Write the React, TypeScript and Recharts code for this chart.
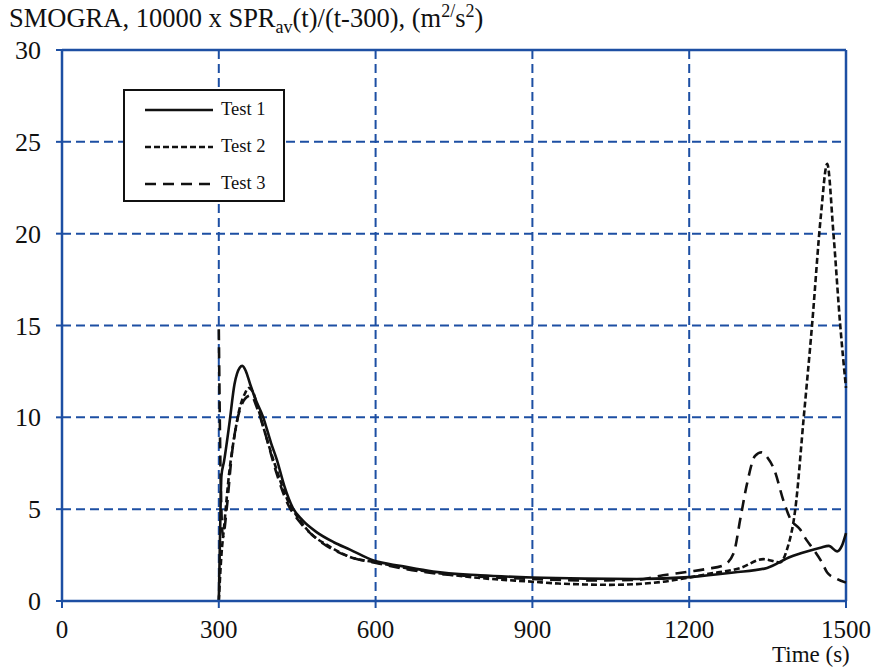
import React from "react";
import {
  CartesianGrid,
  Legend,
  Line,
  LineChart,
  ReferenceLine,
  XAxis,
  YAxis,
} from "recharts";

// values
const timeTicks = [0, 300, 600, 900, 1200, 1500];
const valueTicks = [0, 5, 10, 15, 20, 25, 30];

const test1Time = [300, 302, 305, 310, 320, 330, 340, 345, 352, 360, 370, 385, 400, 411, 425, 442, 460, 487, 520, 551, 596, 650, 710, 800, 900, 1000, 1100, 1200, 1285, 1349, 1393, 1425, 1451, 1467, 1483, 1492, 1500];
const test1Value = [0, 3, 6.8, 7.6, 9.6, 11.8, 12.7, 12.8, 12.5, 11.8, 11, 10, 8.6, 7.7, 6.3, 5.05, 4.4, 3.75, 3.2, 2.8, 2.2, 1.9, 1.6, 1.4, 1.28, 1.22, 1.2, 1.3, 1.55, 1.8, 2.4, 2.7, 2.9, 3.0, 2.7, 3.0, 3.7];

const test2Time = [300, 305, 310, 320, 330, 340, 350, 357, 365, 375, 390, 410, 430, 455, 475, 510, 551, 600, 700, 800, 900, 950, 1000, 1050, 1100, 1150, 1200, 1234, 1298, 1342, 1374, 1387, 1403, 1419, 1435, 1452, 1464, 1476, 1489, 1500];
const test2Value = [0, 2.5, 4, 7, 9, 10.5, 11.3, 11.6, 11.4, 10.5, 9, 7.2, 5.6, 4.4, 3.7, 3.0, 2.4, 2.1, 1.6, 1.25, 1.05, 0.95, 0.9, 0.88, 0.92, 1.05, 1.28, 1.46, 1.8, 2.28, 2.1, 2.8, 5, 9.95, 15, 21, 23.8, 20, 15, 11.6];

const test3Time = [300, 304, 308, 315, 325, 335, 350, 362, 372, 390, 410, 430, 455, 487, 551, 596, 700, 800, 900, 1000, 1100, 1150, 1200, 1234, 1266, 1285, 1298, 1310, 1326, 1339, 1350, 1362, 1381, 1393, 1412, 1425, 1438, 1454, 1464, 1483, 1500];
const test3Value = [14.8, 6, 3.5, 5, 8, 9.8, 11, 11.2, 10.6, 9, 7, 5.4, 4.3, 3.4, 2.4, 2.1, 1.55, 1.32, 1.2, 1.12, 1.15, 1.4, 1.6, 1.75, 1.95, 2.6, 4.5, 6.3, 7.9, 8.1, 7.8, 7.2, 5.4, 4.5, 3.9, 3.3, 2.8, 2.1, 1.55, 1.2, 1.0];

const seriesNames = ["Test 1", "Test 2", "Test 3"];

const toRows = (ts: number[], vs: number[]) => ts.map((t, i) => ({ t, v: vs[i] }));

const BLUE = "#1d4fa3";
const dashes: Record<string, string | undefined> = {
  "Test 1": undefined,
  "Test 2": "6 3",
  "Test 3": "11 7",
};
const FONT = "'Liberation Serif', 'Times New Roman', serif";

const XTick = ({ x, y, payload }: any) => (
  <text x={x} y={y} dy="0.78em" textAnchor="middle" fontSize={25} fontFamily={FONT} fill="#111">
    {payload.value}
  </text>
);

const YTick = ({ x, y, payload }: any) => (
  <text x={x} y={y} dy="0.35em" textAnchor="end" fontSize={26} fontFamily={FONT} fill="#111">
    {payload.value}
  </text>
);

const LegendBox = ({ payload }: any) => (
  <div
    style={{
      width: 162,
      height: 113,
      border: "2px solid #111",
      background: "#fff",
      boxSizing: "border-box",
      fontFamily: FONT,
      fontSize: 18.5,
      color: "#111",
    }}
  >
    {(payload || []).map((entry: any) => (
      <div key={entry.value} style={{ display: "flex", alignItems: "center", height: 37 }}>
        <svg width={88} height={10} style={{ marginLeft: 20 }}>
          <line x1={0} y1={5} x2={68} y2={5} stroke="#111" strokeWidth={2.5} strokeDasharray={dashes[entry.value]} />
        </svg>
        <span style={{ marginLeft: -12 }}>{entry.value}</span>
      </div>
    ))}
  </div>
);

export default function App() {
  const rows = [toRows(test1Time, test1Value), toRows(test2Time, test2Value), toRows(test3Time, test3Value)];

  return (
    <div style={{ position: "fixed", left: 0, top: 0, width: 877, height: 667, background: "#fff" }}>
      <div
        style={{
          position: "absolute",
          left: 9,
          top: 1,
          fontFamily: FONT,
          fontSize: 26.5,
          color: "#111",
          whiteSpace: "nowrap",
          zIndex: 2,
        }}
      >
        SMOGRA, 10000 x SPR<sub style={{ fontSize: 18 }}>av</sub>(t)/(t-300), (m<sup style={{ fontSize: 18 }}>2/</sup>s
        <sup style={{ fontSize: 18 }}>2</sup>)
      </div>

      <LineChart width={877} height={667} margin={{ top: 50, right: 31, bottom: 0, left: 0 }}>
        <CartesianGrid stroke={BLUE} strokeWidth={2} strokeDasharray="9 5" />
        <XAxis
          type="number"
          dataKey="t"
          domain={[0, 1500]}
          ticks={timeTicks}
          height={66}
          axisLine={{ stroke: BLUE, strokeWidth: 2.5 }}
          tickLine={{ stroke: BLUE, strokeWidth: 2 }}
          tickSize={7}
          tickMargin={10}
          tick={<XTick />}
          allowDuplicatedCategory={false}
        />
        <YAxis
          type="number"
          domain={[0, 30]}
          ticks={valueTicks}
          width={62}
          axisLine={{ stroke: BLUE, strokeWidth: 2.5 }}
          tickLine={{ stroke: BLUE, strokeWidth: 2 }}
          tickSize={6}
          tickMargin={15}
          tick={<YTick />}
        />
        <ReferenceLine y={30} stroke={BLUE} strokeWidth={2.5} />
        <ReferenceLine x={1500} stroke={BLUE} strokeWidth={2.5} />
        <Legend
          layout="horizontal"
          verticalAlign="middle"
          align="center"
          content={<LegendBox />}
          wrapperStyle={{ left: 123, top: 89, width: 162, height: 113 }}
        />
        {seriesNames.map((name, i) => (
          <Line
            key={name}
            name={name}
            data={rows[i]}
            dataKey="v"
            type="monotone"
            stroke="#111"
            strokeWidth={2.6}
            strokeDasharray={dashes[name]}
            dot={false}
            isAnimationActive={false}
          />
        ))}
      </LineChart>

      <div
        style={{
          position: "absolute",
          left: 772,
          top: 644,
          fontFamily: FONT,
          fontSize: 23,
          lineHeight: 0.95,
          color: "#111",
        }}
      >
        Time (s)
      </div>
    </div>
  );
}
